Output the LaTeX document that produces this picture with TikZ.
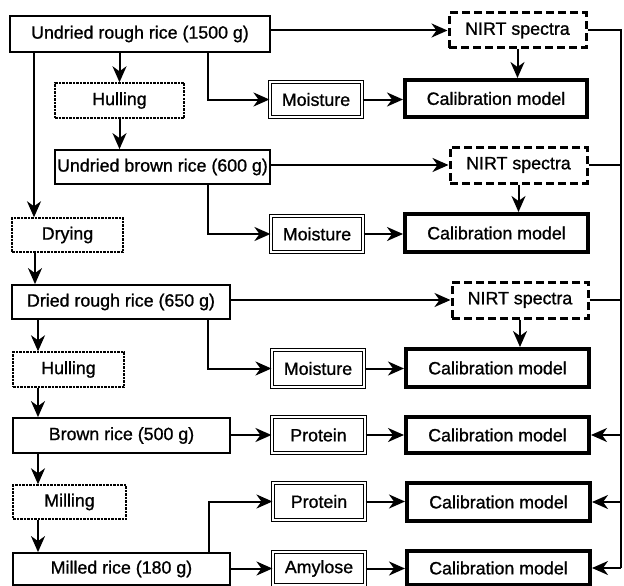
\documentclass[tikz,border=0pt]{standalone}
\usepackage{fontspec}
\setmainfont[FakeBold=1.0]{Liberation Sans}
\usetikzlibrary{arrows.meta}
\begin{document}
\begin{tikzpicture}[x=1pt,y=-1pt,
  every node/.style={inner sep=0pt, font=\fontsize{17.8}{20}\selectfont},
  solidbox/.style={draw, line width=1.8pt},
  procbox/.style={draw, line width=1.4pt, dash pattern=on 2.5pt off 1pt},
  nirtbox/.style={draw, line width=3pt, dash pattern=on 8pt off 4pt},
  calbox/.style={draw, line width=4pt},
  measbox/.style={draw, line width=1.1pt, double=white, double distance=1.8pt},
  arr/.style={-{Stealth[length=16pt,width=14pt,inset=5pt]}, line width=2pt},
  conn/.style={line width=2pt}]
\useasboundingbox (0,0) rectangle (624,586);
% row 1
\node[solidbox, minimum width=260pt, minimum height=36pt] (rr) at (140,34) {Undried rough rice (1500 g)};
\node[nirtbox, minimum width=137pt, minimum height=35pt] (nirt1) at (517.5,30.5) {NIRT spectra};
\node[procbox, minimum width=129pt, minimum height=35pt] (hull1) at (119.5,100.5) {Hulling};
\node[measbox, minimum width=92pt, minimum height=35pt] (moist1) at (316,99.5) {Moisture};
\node[calbox, minimum width=182pt, minimum height=37pt] (cal1) at (496,98.5) {Calibration model};
% row 2
\node[solidbox, minimum width=215pt, minimum height=34pt] (ubr) at (162.5,167) {Undried brown rice (600 g)};
\node[nirtbox, minimum width=137pt, minimum height=36pt] (nirt2) at (518.5,165) {NIRT spectra};
\node[measbox, minimum width=92pt, minimum height=36pt] (moist2) at (317,234) {Moisture};
\node[calbox, minimum width=183pt, minimum height=38pt] (cal2) at (496.5,233) {Calibration model};
\node[procbox, minimum width=111pt, minimum height=34pt] (dry) at (67.5,235) {Drying};
% row 3
\node[solidbox, minimum width=218pt, minimum height=34pt] (drr) at (121,302) {Dried rough rice (650 g)};
\node[nirtbox, minimum width=136pt, minimum height=36pt] (nirt3) at (520,300) {NIRT spectra};
\node[measbox, minimum width=92pt, minimum height=37pt] (moist3) at (318,368.5) {Moisture};
\node[calbox, minimum width=183pt, minimum height=38pt] (cal3) at (497.5,368) {Calibration model};
\node[procbox, minimum width=111pt, minimum height=35pt] (hull2) at (68.5,369.5) {Hulling};
% row 4
\node[solidbox, minimum width=217pt, minimum height=35pt] (br) at (121.5,435.5) {Brown rice (500 g)};
\node[measbox, minimum width=93pt, minimum height=36pt] (prot1) at (318.5,435) {Protein};
\node[calbox, minimum width=183pt, minimum height=36pt] (cal4) at (497.5,435) {Calibration model};
\node[procbox, minimum width=113pt, minimum height=34pt] (mill) at (69.5,502) {Milling};
\node[measbox, minimum width=92pt, minimum height=37pt] (prot2) at (319,501.5) {Protein};
\node[calbox, minimum width=183pt, minimum height=38pt] (cal5) at (498.5,502) {Calibration model};
% row 5
\node[solidbox, minimum width=217pt, minimum height=32pt] (mr) at (121.5,569) {Milled rice (180 g)};
\node[measbox, minimum width=92pt, minimum height=33pt] (amy) at (319,568.5) {Amylose};
\node[calbox, minimum width=183pt, minimum height=34pt] (cal6) at (498.5,568) {Calibration model};
\coordinate (RL) at (621,0);
% connectors
\draw[arr] (rr.east |- nirt1.west) -- (nirt1.west);
\draw[arr] (hull1.north |- rr.south) -- (hull1.north);
\draw[arr] ([xshift=68pt]rr.south) |- (moist1.west);
\draw[arr] ([xshift=-106pt]rr.south) -- ([xshift=-106pt]rr.south |- dry.north);
\draw[arr] (nirt1.south) -- (nirt1.south |- cal1.north);
\draw[arr] (moist1.east) -- (moist1.east -| cal1.west);
\draw[arr] (hull1.south) -- (hull1.south |- ubr.north);
\draw[arr] (ubr.east |- nirt2.west) -- (nirt2.west);
\draw[arr] ([xshift=45.5pt]ubr.south) |- (moist2.west);
\draw[arr] (nirt2.south) -- (nirt2.south |- cal2.north);
\draw[arr] (moist2.east) -- (moist2.east -| cal2.west);
\draw[arr] ([xshift=-32.5pt]dry.south) -- ([xshift=-32.5pt]dry.south |- drr.north);
\draw[arr] (drr.east |- nirt3.west) -- (nirt3.west);
\draw[arr] ([xshift=87pt]drr.south) |- (moist3.west);
\draw[arr] ([xshift=-30.5pt]hull2.north |- drr.south) -- ([xshift=-30.5pt]hull2.north);
\draw[arr] (nirt3.south) -- (nirt3.south |- cal3.north);
\draw[arr] (moist3.east) -- (moist3.east -| cal3.west);
\draw[arr] ([xshift=-30.5pt]hull2.south) -- ([xshift=-30.5pt]hull2.south |- br.north);
\draw[arr] (br.east |- prot1.west) -- (prot1.west);
\draw[arr] (prot1.east) -- (prot1.east -| cal4.west);
\draw[arr] ([xshift=-31.5pt]mill.north |- br.south) -- ([xshift=-31.5pt]mill.north);
\draw[arr] ([xshift=-31.5pt]mill.south) -- ([xshift=-31.5pt]mill.south |- mr.north);
\draw[arr] ([xshift=87.5pt]mr.north) |- (prot2.west);
\draw[arr] (mr.east |- amy.west) -- (amy.west);
\draw[arr] (prot2.east) -- (prot2.east -| cal5.west);
\draw[arr] (amy.east) -- (amy.east -| cal6.west);
% right collector line
\draw[conn] (nirt1.east) -- (nirt1.east -| RL) -- (cal6.east -| RL);
\draw[conn] (nirt2.east) -- (nirt2.east -| RL);
\draw[conn] (nirt3.east) -- (nirt3.east -| RL);
\draw[arr] (cal4.east -| RL) -- (cal4.east);
\draw[arr] (cal5.east -| RL) -- (cal5.east);
\draw[arr] (cal6.east -| RL) -- (cal6.east);
\end{tikzpicture}
\end{document}
